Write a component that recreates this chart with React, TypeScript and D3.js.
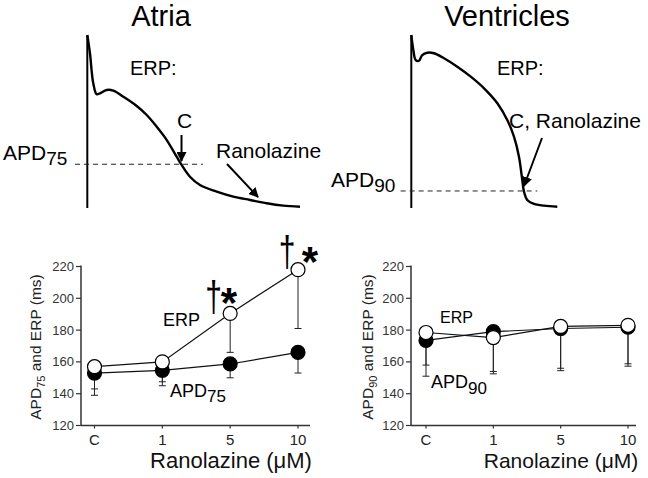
import React from "react";
import * as d3 from "d3";

// ---------- Data ----------
const categories = ["C", "1", "5", "10"];

// Atria (bottom-left)
const atriaERP = [157, 160, 190.5, 218];
const atriaERPLow = [143, 147.5, 166, 181];
const atriaAPD = [153, 154.7, 158.7, 166];
const atriaAPDLow = [139, 145, 150, 153];

// Ventricles (bottom-right)
const ventERP = [178.5, 175.3, 182.3, 183];
const ventERPLow = [158, 154, 156, 158.8];
const ventAPD = [173.5, 179, 181, 181.8];
const ventAPDLow = [151, 152.5, 154.5, 157.3];

const yTicks = [120, 140, 160, 180, 200, 220];

// Action potential traces: [time (ms), voltage (mV)]
const atriaAP: [number, number][] = [
  [0, 40], [2.5, 26.8], [5.6, 5.1], [8.8, -2.8], [11.9, -2.1], [18.2, 0.3],
  [24.4, -0.2], [33.8, -4.6], [46.4, -11.3], [55.8, -17.8], [65.2, -26.3],
  [74.6, -35.9], [83.9, -47.9], [88.6, -53.9], [96.4, -62.4], [105.8, -68.4],
  [121.5, -73.2], [137.1, -76.8], [152.8, -79.2], [168.5, -81.6], [184, -83.3],
  [199.7, -84.1],
];
const ventAP: [number, number][] = [
  [0, 40], [1.9, 29.2], [4.1, 21.9], [7.2, 21.4], [10.3, 25.5], [15, 27.2],
  [21.3, 26.8], [30.7, 23.2], [43.2, 17.1], [55.8, 9.9], [68.3, 1.5],
  [80.8, -9.3], [90.1, -21.4], [96.4, -33.4], [101.1, -47.9], [104.2, -64.8],
  [105.8, -73.2], [108.9, -79.2], [115.2, -82.1], [124.6, -83.3], [137.1, -84.1],
];
const restV = -85;
const atriaAPD75V = -53.4;
const ventAPD90V = -72.7;

const FONT = "'Liberation Sans', Arial, Helvetica, sans-serif";

type TraceProps = {
  x0: number;
  data: [number, number][];
  dashV: number;
  dashT: [number, number];
};

function Trace({ x0, data, dashV, dashT }: TraceProps) {
  const xs = d3.scaleLinear().domain([0, 100]).range([x0, x0 + 106.5]);
  const ys = d3.scaleLinear().domain([-85, 40]).range([208, 35]);
  const line = d3
    .line<[number, number]>()
    .x((d) => xs(d[0]))
    .y((d) => ys(d[1]))
    .curve(d3.curveCatmullRom.alpha(0.5));
  return (
    <g>
      <line x1={xs(0)} x2={xs(0)} y1={ys(restV)} y2={ys(40)} stroke="#000" strokeWidth={2} />
      <path d={line(data) || ""} fill="none" stroke="#000" strokeWidth={2.4} />
      <line
        x1={xs(dashT[0])}
        x2={xs(dashT[1])}
        y1={ys(dashV)}
        y2={ys(dashV)}
        stroke="#222"
        strokeWidth={1}
        strokeDasharray="5,4"
      />
    </g>
  );
}

type PanelProps = {
  axisX0: number;
  axisX1: number;
  catX0: number;
  catX1: number;
  erp: number[];
  erpLow: number[];
  apd: number[];
  apdLow: number[];
  sub: string;
  labelX: number;
  titleSize: number;
};

function Panel({ axisX0, axisX1, catX0, catX1, erp, erpLow, apd, apdLow, sub, labelX, titleSize }: PanelProps) {
  const x = d3.scalePoint<string>().domain(categories).range([catX0, catX1]);
  const y = d3.scaleLinear().domain([120, 220]).range([425.5, 266.5]);
  const lineGen = d3
    .line<number>()
    .x((_, i) => x(categories[i]) as number)
    .y((d) => y(d));
  const axisColor = "#333";
  const r = 7;
  const errBars = (vals: number[], lows: number[], key: string) =>
    vals.map((v, i) => {
      const cx = x(categories[i]) as number;
      return (
        <g key={key + i}>
          <line x1={cx} x2={cx} y1={y(v)} y2={y(lows[i])} stroke="#222" strokeWidth={1} />
          <line x1={cx - 3.5} x2={cx + 3.5} y1={y(lows[i])} y2={y(lows[i])} stroke="#222" strokeWidth={1} />
        </g>
      );
    });
  return (
    <g fontFamily={FONT}>
      {/* axes */}
      <line x1={axisX0} x2={axisX0} y1={y(220) - 1} y2={y(120)} stroke={axisColor} strokeWidth={1.5} />
      <line x1={axisX0} x2={axisX1} y1={y(120)} y2={y(120)} stroke={axisColor} strokeWidth={1.5} />
      {yTicks.map((t) => (
        <g key={t}>
          <line x1={axisX0 - 5} x2={axisX0} y1={y(t)} y2={y(t)} stroke={axisColor} strokeWidth={1.2} />
          <text x={axisX0 - 7} y={y(t)} dy="0.35em" textAnchor="end" fontSize={13} fill="#333">
            {t}
          </text>
        </g>
      ))}
      {categories.map((c) => (
        <g key={c}>
          <line x1={x(c)} x2={x(c)} y1={y(120)} y2={y(120) + 3} stroke={axisColor} strokeWidth={1.2} />
          <text x={x(c)} y={445} textAnchor="middle" fontSize={15} fill="#222">
            {c}
          </text>
        </g>
      ))}
      <text x={catX1 - 67} y={468} textAnchor="middle" fontSize={titleSize} fill="#111">
        Ranolazine (μM)
      </text>
      <text
        transform={`translate(${labelX},347) rotate(-90)`}
        textAnchor="middle"
        fontSize={15.5}
        fill="#222"
      >
        APD
        <tspan fontSize={11} dy={4}>
          {sub}
        </tspan>
        <tspan dy={-4}> and ERP (ms)</tspan>
      </text>

      {/* error bars */}
      {errBars(apd, apdLow, "ea")}
      {errBars(erp, erpLow, "ee")}
      {/* lines */}
      <path d={lineGen(apd) || ""} fill="none" stroke="#111" strokeWidth={1.2} />
      <path d={lineGen(erp) || ""} fill="none" stroke="#111" strokeWidth={1.2} />
      {apd.map((v, i) => (
        <circle key={"a" + i} cx={x(categories[i])} cy={y(v)} r={r} fill="#000" stroke="#000" strokeWidth={1.2} />
      ))}
      {erp.map((v, i) => (
        <circle key={"e" + i} cx={x(categories[i])} cy={y(v)} r={r} fill="#fff" stroke="#000" strokeWidth={1.2} />
      ))}
    </g>
  );
}

export default function App() {
  return (
    <svg
      width={648}
      height={478}
      style={{ position: "absolute", left: 0, top: 0, background: "#fff" }}
      fontFamily={FONT}
    >
      <defs>
        <marker id="ah" viewBox="0 0 10 10" refX="9" refY="5" markerWidth="5" markerHeight="5" orient="auto">
          <path d="M0,0 L10,5 L0,10 z" fill="#000" />
        </marker>
      </defs>
      {/* Titles */}
      <text x={161} y={26} textAnchor="middle" fontSize={29} fill="#000">
        Atria
      </text>
      <text x={507} y={26} textAnchor="middle" fontSize={29} fill="#000">
        Ventricles
      </text>

      {/* Top traces */}
      <Trace x0={87.3} data={atriaAP} dashV={atriaAPD75V} dashT={[-11.5, 108.6]} />
      <Trace x0={411.3} data={ventAP} dashV={ventAPD90V} dashT={[-10, 118.3]} />

      {/* Atria annotations */}
      <text x={3} y={160} fontSize={21} fill="#000">
        APD<tspan fontSize={19} dy={5}>75</tspan>
      </text>
      <text x={130} y={75} fontSize={20} fill="#000">ERP:</text>
      <text x={177} y={128} fontSize={21} fill="#000">C</text>
      <line x1={181.5} y1={135} x2={181.5} y2={161} stroke="#000" strokeWidth={2} markerEnd="url(#ah)" />
      <text x={216} y={158} fontSize={21} fill="#000">Ranolazine</text>
      <line x1={227} y1={164} x2={258} y2={197} stroke="#000" strokeWidth={2} markerEnd="url(#ah)" />

      {/* Ventricle annotations */}
      <text x={331} y={187} fontSize={21} fill="#000">
        APD<tspan fontSize={19} dy={5}>90</tspan>
      </text>
      <text x={497} y={75} fontSize={20} fill="#000">ERP:</text>
      <text x={509} y={128} fontSize={21} fill="#000">C, Ranolazine</text>
      <line x1={542} y1={138} x2={524} y2={186} stroke="#000" strokeWidth={2} markerEnd="url(#ah)" />

      {/* Bottom panels */}
      <Panel
        axisX0={81}
        axisX1={310}
        catX0={94.5}
        catX1={298}
        erp={atriaERP}
        erpLow={atriaERPLow}
        apd={atriaAPD}
        apdLow={atriaAPDLow}
        sub="75"
        labelX={41}
        titleSize={22}
      />
      <Panel
        axisX0={411}
        axisX1={636}
        catX0={426}
        catX1={628}
        erp={ventERP}
        erpLow={ventERPLow}
        apd={ventAPD}
        apdLow={ventAPDLow}
        sub="90"
        labelX={373}
        titleSize={21}
      />

      {/* Bottom-left labels */}
      <text x={163} y={326} fontSize={18} fill="#000">ERP</text>
      <text x={170} y={397} fontSize={18} fill="#000">
        APD<tspan fontSize={17} dy={5}>75</tspan>
      </text>
      {/* significance marks */}
      <text transform="translate(213.5,311) scale(1,1.4)" textAnchor="middle" fontSize={30} fill="#000">†</text>
      <text x={229} y={317} textAnchor="middle" fontSize={42} fontWeight="bold" fill="#000">*</text>
      <text transform="translate(287,266) scale(1,1.4)" textAnchor="middle" fontSize={30} fill="#000">†</text>
      <text x={310} y={276} textAnchor="middle" fontSize={42} fontWeight="bold" fill="#000">*</text>

      {/* Bottom-right labels */}
      <text x={440} y={323} fontSize={16} fill="#000">ERP</text>
      <text x={431} y={388} fontSize={18} fill="#000">
        APD<tspan fontSize={17} dy={6}>90</tspan>
      </text>
    </svg>
  );
}
